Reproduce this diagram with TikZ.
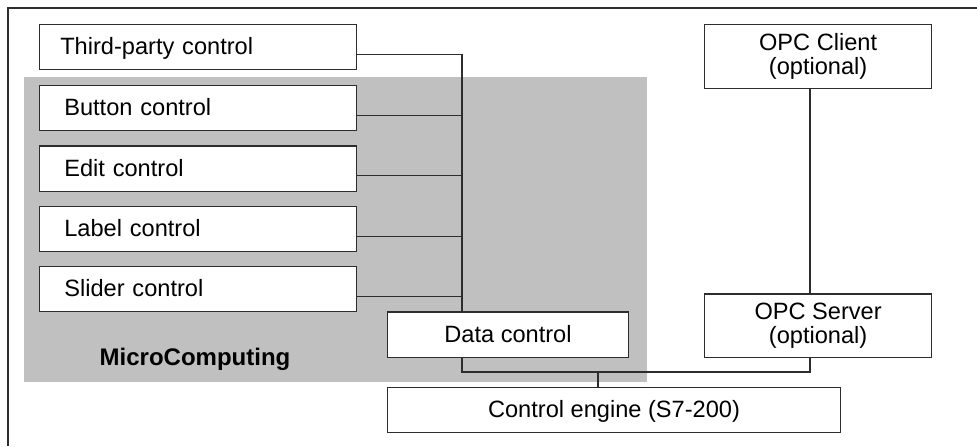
\documentclass[tikz,border=0pt]{standalone}
\usepackage{fontspec}
\setmainfont{Liberation Sans}

\definecolor{mcgray}{RGB}{192,192,192}
\definecolor{linegray}{RGB}{45,45,45}

\tikzset{
  basebox/.style={draw=linegray, fill=white, line width=0.6pt, anchor=north west,
    font=\fontsize{11.8pt}{12.2pt}\selectfont},
  ctrlbox/.style={basebox, minimum height=22.6pt, inner xsep=12.5pt, text width=133.7pt,
    align=left, text height=8pt, text depth=0.5pt},
  midbox/.style={basebox, minimum height=22.6pt, text height=8pt, text depth=0.5pt},
  opcbox/.style={basebox, minimum width=113.5pt, minimum height=31.8pt, align=center},
  wire/.style={draw=linegray, line width=0.6pt}
}

\begin{document}
\begin{tikzpicture}[x=0.5pt, y=-0.5pt]
        \useasboundingbox (0,0) rectangle (977,446);

        % Outer frame (cut off at right and bottom)
        \draw[linegray, line width=0.8pt] (8,446) -- (8,8) -- (977,8);

        % MicroComputing area
        \fill[mcgray] (24,77) rectangle (646.7,382);
        \node[font=\fontsize{12pt}{14pt}\selectfont\bfseries] (mc) at (195,359) {MicroComputing};

        % Controls
        \node[ctrlbox, inner xsep=10.5pt, text width=137.7pt] (third) at (38.7,24) {Third-party control};
        \node[ctrlbox] (btn) at (38.7,85) {Button control};
        \node[ctrlbox] (edit) at (38.7,145.3) {Edit control};
        \node[ctrlbox] (label) at (38.7,205.7) {Label control};
        \node[ctrlbox] (slider) at (38.7,266) {Slider control};
        \node[midbox, minimum width=120.7pt] (data) at (386.7,311.3) {Data control};
        \node[midbox, minimum width=226.7pt] (engine) at (386.7,386.7) {Control engine (S7-200)};

        % OPC side
        \node[opcbox] (client) at (704,24) {OPC Client\\(optional)};
        \node[opcbox] (server) at (704,293.3) {OPC Server\\(optional)};

        % Wiring
        \coordinate (bus) at (462,0);
        \coordinate (opcbus) at (810,0);
        \coordinate (join) at (598,372);
        \coordinate (third-o) at ([yshift=-3.6pt]third.east);
        \draw[wire] (third-o) -| (data.north -| bus);
        \foreach \c in {btn, edit, label, slider} {
          \coordinate (\c-o) at ([yshift=-3.6pt]\c.east);
          \draw[wire] (\c-o) -- (\c-o -| bus);
        }
        \draw[wire] (data.south -| bus) |- (join) -| (server.south -| opcbus);
        \draw[wire] (join) -- (engine.north -| join);
        \draw[wire] (client.south -| opcbus) -- (server.north -| opcbus);
\end{tikzpicture}
\end{document}
